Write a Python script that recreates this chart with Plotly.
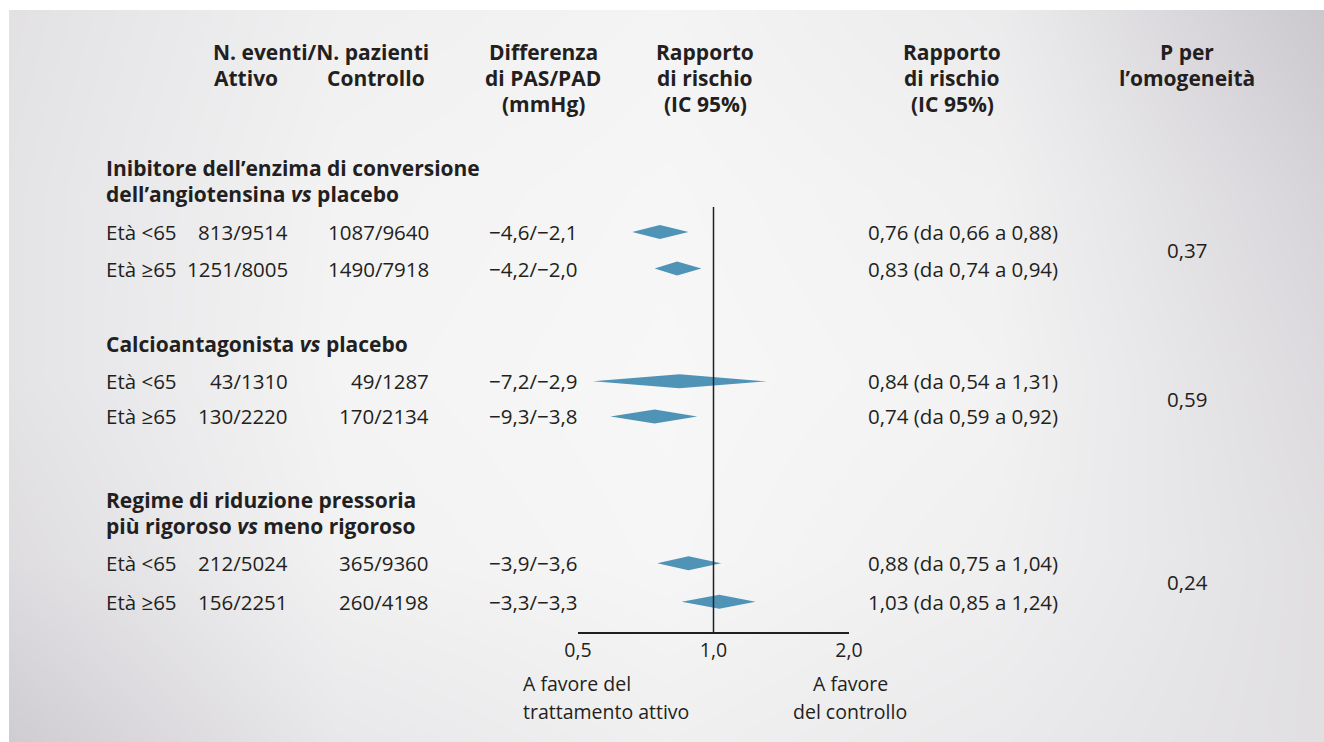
import plotly.graph_objects as go

W, H = 1324, 742

# ---------------- data ----------------
group_titles = [
    ["Inibitore dell’enzima di conversione", "dell’angiotensina <i>vs</i> placebo"],
    ["Calcioantagonista <i>vs</i> placebo"],
    ["Regime di riduzione pressoria", "più rigoroso <i>vs</i> meno rigoroso"],
]
row_group = [0, 0, 1, 1, 2, 2]
age_labels = ["Età <65", "Età ≥65", "Età <65", "Età ≥65", "Età <65", "Età ≥65"]
active_events = ["813/9514", "1251/8005", "43/1310", "130/2220", "212/5024", "156/2251"]
control_events = ["1087/9640", "1490/7918", "49/1287", "170/2134", "365/9360", "260/4198"]
bp_difference = ["−4,6/−2,1", "−4,2/−2,0", "−7,2/−2,9", "−9,3/−3,8", "−3,9/−3,6", "−3,3/−3,3"]
hazard_ratio = [0.76, 0.83, 0.84, 0.74, 0.88, 1.03]
ci_low = [0.66, 0.74, 0.54, 0.59, 0.75, 0.85]
ci_high = [0.88, 0.94, 1.31, 0.92, 1.04, 1.24]
p_homogeneity = ["0,37", "0,59", "0,24"]
x_ticks = [0.5, 1.0, 2.0]
x_tick_labels = ["0,5", "1,0", "2,0"]

# ---------------- layout / style ----------------
FONT = "Open Sans, Noto Sans, sans-serif"
FS = 20.5
FS_HEAD = 21
TXT = "#231f20"
DIAMOND = "#4f93b6"

ROW_POS = [0, 1, 4.08, 5.04, 9.05, 10.1]   # row slots (y2 units)
ROW_PX0, ROW_STEP = 232, 36.6              # pixel position of slot 0, pixels per slot
HALF_H = 7 / ROW_STEP                      # diamond half height

def row_of(y):
    return (y - ROW_PX0) / ROW_STEP

def px(x):
    return x / W

def py(y):
    return 1 - y / H

AXIS_PX, TOP_PX = 633, 207
X_LEFT_PX, X_RIGHT_PX = 578, 849

fig = go.Figure()

# background gradient (styling only)
bg_levels = [
    [226, 240, 244, 236, 203],
    [228, 243, 246, 241, 214],
    [228, 244, 247, 243, 220],
    [222, 242, 246, 240, 224],
    [207, 232, 240, 234, 224],
]
fig.add_trace(go.Heatmap(
    z=[[(v - 200) / 48 for v in r] for r in bg_levels],
    x=[0, 1, 2, 3, 4], y=[0, 1, 2, 3, 4],
    zmin=0, zmax=1, zsmooth="best", showscale=False, hoverinfo="skip",
    colorscale=[[0, "rgb(200,197,203)"], [1, "rgb(248,248,248)"]],
    xaxis="x", yaxis="y",
))

# diamonds
for i in range(len(hazard_ratio)):
    r = ROW_POS[i]
    fig.add_trace(go.Scatter(
        x=[ci_low[i], hazard_ratio[i], ci_high[i], hazard_ratio[i], ci_low[i]],
        y=[r, r - HALF_H, r, r + HALF_H, r],
        mode="lines", fill="toself", fillcolor=DIAMOND,
        line=dict(width=0, color=DIAMOND), hoverinfo="skip",
        xaxis="x2", yaxis="y2", showlegend=False,
    ))

ann = []

def add(text, x, y, yref="y2", xanchor="left", size=FS, bold=False):
    t = f"<b>{text}</b>" if bold else text
    ann.append(dict(text=t, x=x, y=y, xref="paper", yref=yref, xanchor=xanchor,
                    yanchor="middle", showarrow=False,
                    font=dict(family=FONT, size=size, color=TXT)))

# column headers
LH = 26
add("N. eventi/N. pazienti", px(321), py(52), "paper", "center", FS_HEAD, True)
add("Attivo", px(246), py(52 + LH), "paper", "center", FS_HEAD, True)
add("Controllo", px(376), py(52 + LH), "paper", "center", FS_HEAD, True)
for k, s in enumerate(["Differenza", "di PAS/PAD", "(mmHg)"]):
    add(s, px(543), py(52 + k * LH), "paper", "center", FS_HEAD, True)
for k, s in enumerate(["Rapporto", "di rischio", "(IC 95%)"]):
    add(s, px(705), py(52 + k * LH), "paper", "center", FS_HEAD, True)
    add(s, px(952), py(52 + k * LH), "paper", "center", FS_HEAD, True)
for k, s in enumerate(["P per", "l’omogeneità"]):
    add(s, px(1187), py(52 + k * LH), "paper", "center", FS_HEAD, True)

# group headers
for g, lines in enumerate(group_titles):
    first = ROW_POS[row_group.index(g)]
    n = len(lines)
    for k, s in enumerate(lines):
        add(s, px(104), first - 1.03 - (n - 1 - k) * LH / ROW_STEP, size=FS_HEAD, bold=True)

# rows
fmt = lambda v: f"{v:.2f}".replace(".", ",")
for i in range(len(hazard_ratio)):
    r = ROW_POS[i]
    add(age_labels[i], px(104), r)
    add(active_events[i], px(290), r, xanchor="right")
    add(control_events[i], px(431), r, xanchor="right")
    add(bp_difference[i], px(533), r, xanchor="center")
    add(f"{fmt(hazard_ratio[i])} (da {fmt(ci_low[i])} a {fmt(ci_high[i])})", px(866), r)

# p for homogeneity
for g, p in enumerate(p_homogeneity):
    rows = [ROW_POS[i] for i in range(len(row_group)) if row_group[i] == g]
    add(p, px(1187), sum(rows) / len(rows), xanchor="center")

# favour labels
add("A favore del", px(521), py(683), "paper", "left", 19.5)
add("trattamento attivo", px(521), py(711), "paper", "left", 19.5)
add("A favore", px(850), py(683), "paper", "center", 19.5)
add("del controllo", px(850), py(711), "paper", "center", 19.5)

fig.update_layout(
    width=W, height=H, autosize=False,
    margin=dict(l=0, r=0, t=0, b=0, pad=0, autoexpand=False),
    paper_bgcolor="white", plot_bgcolor="rgba(0,0,0,0)",
    showlegend=False,
    annotations=ann,
    xaxis=dict(domain=[9 / W, 1], range=[0, 4], visible=False, fixedrange=True),
    yaxis=dict(domain=[0, 1 - 10 / H], range=[4, 0], visible=False, fixedrange=True),
    xaxis2=dict(
        type="log", domain=[px(X_LEFT_PX), px(X_RIGHT_PX)],
        range=[-0.30103, 0.30103], anchor="free", position=py(AXIS_PX),
        showline=True, linecolor=TXT, linewidth=1.5, showgrid=False, zeroline=False,
        automargin=False,
        tickvals=x_ticks, ticktext=x_tick_labels, ticks="outside", ticklen=0,
        tickcolor="rgba(0,0,0,0)", tickfont=dict(family=FONT, size=19.5, color=TXT),
    ),
    yaxis2=dict(domain=[0, 1], range=[row_of(H), row_of(0)], anchor="x2",
                visible=False, fixedrange=True, automargin=False),
    shapes=[dict(type="line", xref="x2", yref="y2", x0=1, x1=1,
                 y0=row_of(TOP_PX), y1=row_of(AXIS_PX),
                 line=dict(color=TXT, width=1.5))],
)

fig.write_html(
    "out.html",
    config={"displayModeBar": False},
    post_script="document.body.style.margin='0';document.body.style.overflow='hidden';",
)
